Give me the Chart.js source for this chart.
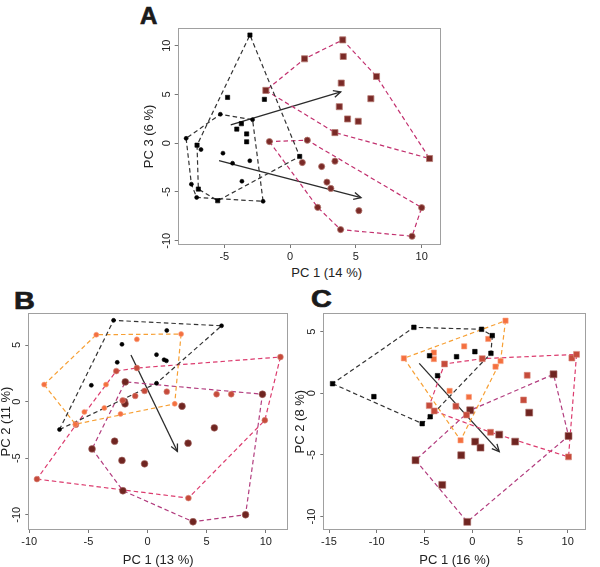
<!DOCTYPE html>
<html><head><meta charset="utf-8">
<script src="https://cdn.jsdelivr.net/npm/chart.js@4.4.0/dist/chart.umd.min.js"></script>
<style>
html,body{margin:0;padding:0;background:#fff;}
body{width:600px;height:567px;position:relative;overflow:hidden;font-family:'Liberation Sans',Arial,sans-serif;}
canvas{position:absolute;}
.lab{position:absolute;font-weight:bold;font-size:24px;line-height:24px;color:#1a1a1a;transform-origin:left top;-webkit-text-stroke:0.7px #1a1a1a;}
.axt{position:absolute;font-size:13px;line-height:14px;color:#222;text-align:center;width:200px;}
</style></head><body>
<div class="lab" style="left:140px;top:4px;">A</div>
<div class="lab" style="left:13.5px;top:288.6px;transform:scaleX(1.2);">B</div>
<div class="lab" style="left:311px;top:287px;transform:scaleX(1.2);">C</div>
<div class="axt" style="left:226.7px;top:266px;">PC 1 (14 %)</div>
<canvas id="cA" width="320" height="285" style="left:130px;top:0px;width:320px;height:285px"></canvas>
<canvas id="cB" width="292" height="282" style="left:0px;top:285px;width:292px;height:282px"></canvas>
<canvas id="cC" width="310" height="282" style="left:290px;top:285px;width:310px;height:282px"></canvas>
<script>
// ---------- Panel A (PC1 vs PC3) ----------
const A_blackSquares = [[-3.05,11.1],[-4.75,4.7],[-1.95,4.5],[-3.7,2.0],[-4.05,1.45],[-3.3,0.95],[-3.3,0.15],[-7.07,-0.2],[-6.97,-4.7],[-5.5,-5.9],[0.73,-1.36]];
const A_blackCircles = [[-7.9,0.5],[-6.77,-0.65],[-5.3,2.97],[-2.85,2.42],[-5.1,-1.02],[-4.37,-2.05],[-3.06,-1.8],[-3.66,-3.9],[-7.5,-4.2],[-7.1,-5.56],[-2.05,-5.96]];
const A_darkSquares = [[-1.84,5.42],[1.1,8.66],[4.0,10.6],[4.04,8.9],[6.57,6.85],[3.89,6.17],[6.14,4.57],[3.74,3.75],[4.37,2.49],[5.18,2.25],[3.41,1.09],[10.6,-1.57]];
const A_darkCircles = [[-1.57,0.17],[1.31,0.31],[0.93,-1.98],[2.4,-2.39],[3.41,-1.84],[2.8,-3.99],[3.1,-4.64],[2.1,-6.58],[5.23,-6.92],[3.84,-8.86],[9.27,-9.54],[10.0,-6.61]];
const A_arrow1 = [[-4.51,1.87],[3.85,5.27]];
const A_arrow2 = [[-5.4,-1.79],[5.39,-5.59]];
const A_xTicks = [-5,0,5,10];
const A_yTicks = [-10,-5,0,5,10];

// ---------- Panel B (PC1 vs PC2) ----------
const B_black = [[-2.87,7.18],[6.26,6.7],[1.63,6.29],[-2.16,5.06],[0.76,4.15],[1.4,3.7],[1.6,3.6],[-2.56,3.47],[-4.75,1.44],[0.76,1.62],[-7.44,-2.47]];
const B_orange = [[-4.33,5.91],[-0.9,5.5],[2.84,5.97],[-8.74,1.5],[-3.51,1.5],[2.3,-0.2],[-5.34,-0.91],[-3.65,-0.56],[-2.28,-1.09],[-6.1,-2.0]];
const B_red = [[-2.64,2.7],[-0.9,2.97],[11.24,3.94],[1.63,0.88],[-0.25,0.94],[-1.04,0.5],[-2.1,0.1],[5.84,0.65],[7.08,0.65],[9.92,-1.65],[-9.35,-6.85],[3.46,-8.53],[-6.05,-2.05]];
const B_dark = [[-1.88,1.74],[-1.95,0.0],[-1.9,-0.2],[2.92,-0.41],[9.72,0.65],[5.65,-2.32],[-2.78,-3.5],[3.43,-3.68],[-4.69,-4.18],[-2.16,-5.2],[-0.25,-5.5],[-2.08,-7.88],[8.29,-10.0],[3.85,-10.62]];
const B_arrow = [[-1.4,4.12],[2.53,-4.41]];
const B_xTicks = [-10,-5,0,5,10];
const B_yTicks = [-10,-5,0,5];

// ---------- Panel C (PC1 vs PC2) ----------
const C_black = [[-6.11,5.35],[0.98,5.19],[2.1,4.68],[1.96,3.24],[0.28,3.38],[-1.64,2.97],[-4.47,3.05],[-3.63,1.43],[-14.63,0.78],[-10.3,-0.27],[-5.24,-2.46],[-4.4,-1.9]];
const C_orange = [[3.49,5.89],[1.68,4.41],[-0.84,3.81],[-4.02,3.3],[-4.02,2.78],[-7.16,2.84],[2.44,2.16],[2.97,2.62],[-2.37,0.19],[-0.35,-0.3],[-1.22,-3.81]];
const C_red = [[-2.9,2.38],[1.05,2.81],[10.44,2.86],[10.93,3.16],[5.76,1.46],[5.38,-0.54],[-4.5,-1.0],[-3.98,-1.43],[-1.71,-1.05],[-0.59,-1.76],[1.92,-3.16],[10.09,-5.16]];
const C_dark = [[8.52,1.54],[5.97,-1.57],[-0.21,-1.38],[2.83,-3.35],[4.5,-3.92],[0.31,-3.92],[0.87,-4.41],[-1.15,-5.03],[10.09,-3.46],[-5.94,-5.43],[-3.14,-7.43],[-0.52,-10.43]];
const C_arrow = [[-5.55,2.43],[2.83,-4.73]];
const C_xTicks = [-15,-10,-5,0,5,10];
const C_yTicks = [-10,-5,0,5];

// ---------- helpers ----------
Chart.defaults.font.family = "'Liberation Sans', Arial, sans-serif";
const toXY = arr => arr.map(p => ({x: p[0], y: p[1]}));
function convexHull(P) {
  const p = P.slice().sort((a, b) => a[0] - b[0] || a[1] - b[1]);
  const cr = (o, a, b) => (a[0]-o[0])*(b[1]-o[1]) - (a[1]-o[1])*(b[0]-o[0]);
  const lo = [], up = [];
  for (const q of p) { while (lo.length >= 2 && cr(lo[lo.length-2], lo[lo.length-1], q) <= 0) lo.pop(); lo.push(q); }
  for (const q of p.slice().reverse()) { while (up.length >= 2 && cr(up[up.length-2], up[up.length-1], q) <= 0) up.pop(); up.push(q); }
  lo.pop(); up.pop();
  const h = lo.concat(up); h.push(h[0]); return h;
}
function pts(data, color, style, r, border, bw) {
  return {data: toXY(data), showLine: false, pointStyle: style, pointRadius: r, pointHoverRadius: r,
          backgroundColor: color, borderColor: border || color, borderWidth: bw == null ? 0.6 : bw};
}
function hullDs(data, color) {
  return {data: toXY(convexHull(data)), showLine: true, pointRadius: 0, pointHoverRadius: 0,
          borderColor: color, borderWidth: 1.2, borderDash: [4.5, 3], fill: false, tension: 0};
}
function arrowDs(data) {
  return {data: toXY(data), showLine: true, pointRadius: 0, pointHoverRadius: 0,
          borderColor: '#2b2b2b', borderWidth: 1.3, fill: false, arrowHead: true};
}
const boxPlugin = {id: 'box', afterDraw(chart) {
  const a = chart.chartArea, c = chart.ctx;
  c.save(); c.strokeStyle = '#a0a0a0'; c.lineWidth = 1;
  c.strokeRect(Math.round(a.left) + 0.5, Math.round(a.top) + 0.5, Math.round(a.right - a.left) - 1, Math.round(a.bottom - a.top) - 1);
  c.restore();
}};
const arrowPlugin = {id: 'arrowheads', afterDatasetsDraw(chart) {
  const c = chart.ctx;
  chart.data.datasets.forEach((ds, i) => {
    if (!ds.arrowHead) return;
    const m = chart.getDatasetMeta(i).data;
    const p0 = m[m.length - 2], p1 = m[m.length - 1];
    const ang = Math.atan2(p1.y - p0.y, p1.x - p0.x), L = 8, w = 0.45;
    c.save(); c.strokeStyle = ds.borderColor; c.lineWidth = 1.3;
    c.beginPath();
    c.moveTo(p1.x - L*Math.cos(ang - w), p1.y - L*Math.sin(ang - w));
    c.lineTo(p1.x, p1.y);
    c.lineTo(p1.x - L*Math.cos(ang + w), p1.y - L*Math.sin(ang + w));
    c.stroke(); c.restore();
  });
}};
function axis(which, a) {
  const isX = which === 'x';
  return {
    type: 'linear', position: isX ? 'bottom' : 'left', min: a.min, max: a.max,
    afterBuildTicks: s => { s.ticks = a.ticks.map(v => ({value: v})); },
    afterFit: s => { if (isX) s.height = a.size; else s.width = a.size; },
    grid: {drawOnChartArea: false, drawTicks: true, tickLength: 3, color: '#777', lineWidth: 1},
    border: {display: false},
    ticks: isX
      ? {padding: 2.5, color: '#222', font: {size: 11}, autoSkip: false, maxRotation: 0, minRotation: 0, callback: v => String(v)}
      : {padding: 0, color: '#222', font: {size: 11}, autoSkip: false, minRotation: 90, maxRotation: 90, crossAlign: 'center', callback: v => String(v)},
    title: a.title ? {display: true, text: a.title, color: '#222', font: {size: 13, lineHeight: 1}, padding: {top: a.tpad || 0, bottom: a.tpad || 0}} : {display: false}
  };
}
function makeChart(id, datasets, padding, xa, ya) {
  return new Chart(document.getElementById(id), {
    type: 'scatter',
    data: {datasets},
    options: {
      responsive: false, animation: false, events: [],
      layout: {padding},
      plugins: {legend: {display: false}, tooltip: {enabled: false}},
      scales: {x: axis('x', xa), y: axis('y', ya)}
    },
    plugins: [boxPlugin, arrowPlugin]
  });
}

const BLK = '#000000', DARKA = '#7a2a27', ORG = '#f4703f', RED = '#c64b3b', DARK = '#6f2521';
const L_BLK = '#333333', L_CRIM_A = '#c2306e', L_ORG = '#f7a035', L_CRIM = '#dc3b6e', L_PURP = '#b23c7e';

makeChart('cA', [
  pts(A_blackSquares, BLK, 'rect', 3),
  pts(A_blackCircles, BLK, 'circle', 2),
  pts(A_darkSquares, DARKA, 'rect', 4.3, '#b57a72', 0.8),
  pts(A_darkCircles, DARKA, 'circle', 3.1, '#b57a72', 0.8),
  hullDs(A_blackSquares, L_BLK),
  hullDs(A_blackCircles, L_BLK),
  hullDs(A_darkSquares, L_CRIM_A),
  hullDs(A_darkCircles, L_CRIM_A),
  arrowDs(A_arrow1),
  arrowDs(A_arrow2)
], {left: 0, right: 9, top: 28, bottom: 0},
  {min: -8.54, max: 11.47, ticks: A_xTicks, size: 40},
  {min: -10.44, max: 11.82, ticks: A_yTicks, size: 47.7, title: 'PC 3 (6 %)', tpad: 12.5});

makeChart('cB', [
  pts(B_black, BLK, 'circle', 2),
  pts(B_orange, ORG, 'circle', 2.5, '#f8a080', 0.6),
  pts(B_red, RED, 'circle', 2.9, '#d98a7e', 0.6),
  pts(B_dark, DARK, 'circle', 3.4, '#a86a64', 0.6),
  hullDs(B_black, L_BLK),
  hullDs(B_orange, L_ORG),
  hullDs(B_red, L_CRIM),
  hullDs(B_dark, L_PURP),
  arrowDs(B_arrow)
], {left: 0, right: 3, top: 28, bottom: 0},
  {min: -10.08, max: 11.88, ticks: B_xTicks, size: 37, title: 'PC 1 (13 %)', tpad: 0},
  {min: -11.35, max: 7.83, ticks: B_yTicks, size: 28.3, title: 'PC 2 (11 %)', tpad: 0});

makeChart('cC', [
  pts(C_black, BLK, 'rect', 3.2),
  pts(C_orange, ORG, 'rect', 3.7, '#f8a080', 0.6),
  pts(C_red, RED, 'rect', 4.2, '#d98a7e', 0.6),
  pts(C_dark, DARK, 'rect', 4.9, '#a86a64', 0.6),
  hullDs(C_black, L_BLK),
  hullDs(C_orange, L_ORG),
  hullDs(C_red, L_CRIM),
  hullDs(C_dark, L_PURP),
  arrowDs(C_arrow)
], {left: 0, right: 14, top: 28.3, bottom: 0},
  {min: -15.6, max: 11.92, ticks: C_xTicks, size: 37, title: 'PC 1 (16 %)', tpad: 0},
  {min: -11.09, max: 6.49, ticks: C_yTicks, size: 33.3, title: 'PC 2 (8 %)', tpad: 3.8});
</script>
</body></html>
